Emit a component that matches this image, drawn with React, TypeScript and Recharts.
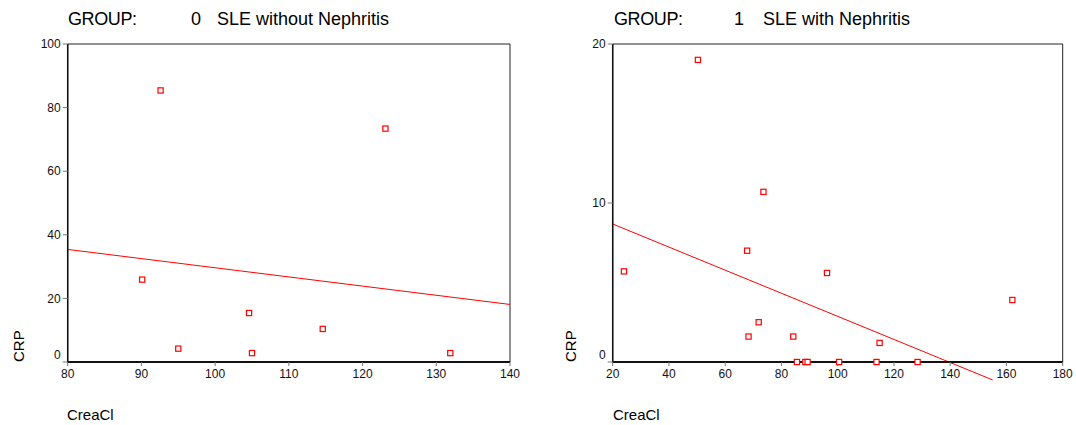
import React from 'react';
import { ScatterChart, Scatter, XAxis, YAxis, ReferenceLine, ReferenceArea } from 'recharts';

// group 0 - SLE without Nephritis
const crea0 = [92.6, 123.1, 90.1, 104.6, 95.0, 105.0, 114.6, 131.9];
const crp0 = [85.4, 73.4, 25.9, 15.4, 4.2, 2.8, 10.4, 2.8];
const fit0 = [
  { x: 80, y: 35.4 },
  { x: 140, y: 18.1 },
];
const xTicks0 = [80, 90, 100, 110, 120, 130, 140];
const yTicks0 = [0, 20, 40, 60, 80, 100];

// group 1 - SLE with Nephritis
const crea1 = [50.3, 73.6, 67.8, 24.0, 96.2, 162.1, 71.9, 68.3, 84.2, 114.9, 85.5, 88.5, 89.3, 100.5, 113.8, 128.4];
const crp1 = [19.0, 10.7, 7.0, 5.7, 5.6, 3.9, 2.5, 1.6, 1.6, 1.2, 0, 0, 0, 0, 0, 0];
const fit1 = [
  { x: 20, y: 8.68 },
  { x: 155.1, y: -1.13 },
];
const xTicks1 = [20, 40, 60, 80, 100, 120, 140, 160, 180];
const yTicks1 = [0, 10, 20];

const FONT = '"Liberation Sans", Arial, Helvetica, sans-serif';

const SquareDot = (props: any) => {
  const { cx, cy } = props;
  if (cx == null || cy == null) return null;
  return <rect x={cx - 2.6} y={cy - 2.6} width={5.2} height={5.2} fill="#fff" stroke="#ff0000" strokeWidth={1.2} />;
};

// SPSS puts the "0" label a bit above its tick
const YTick = (props: any) => {
  const { x, y, payload } = props;
  const shift = payload.value === 0 ? -7 : 0;
  return (
    <text x={x} y={y + shift} dy="0.355em" textAnchor="end" fontSize={12} fontFamily={FONT} fill="#111">
      {payload.value}
    </text>
  );
};

type PanelProps = {
  left: number;
  width: number;
  marginLeft: number;
  marginRight: number;
  crea: number[];
  crp: number[];
  fit: { x: number; y: number }[];
  xTicks: number[];
  yTicks: number[];
};

const Panel: React.FC<PanelProps> = ({ left, width, marginLeft, marginRight, crea, crp, fit, xTicks, yTicks }) => {
  const data = crea.map((c, i) => ({ crea: c, crp: crp[i] }));
  const xMin = xTicks[0];
  const xMax = xTicks[xTicks.length - 1];
  const yMin = yTicks[0];
  const yMax = yTicks[yTicks.length - 1];
  return (
    <div style={{ position: 'absolute', left, top: 0 }}>
      <ScatterChart width={width} height={425} margin={{ top: 44, right: marginRight, bottom: 33, left: marginLeft }}>
        <ReferenceArea
          x1={xMin}
          x2={xMax}
          y1={yMin}
          y2={yMax}
          fill="none"
          stroke="#222"
          strokeWidth={1}
          ifOverflow="visible"
        />
        <XAxis
          type="number"
          dataKey="crea"
          domain={[xMin, xMax]}
          ticks={xTicks}
          interval={0}
          height={30}
          tickSize={4}
          tickMargin={3}
          axisLine={{ stroke: '#111', strokeWidth: 2 }}
          tickLine={{ stroke: '#777' }}
          tick={{ fontSize: 12, fontFamily: FONT, fill: '#111' }}
        />
        <YAxis
          type="number"
          dataKey="crp"
          domain={[yMin, yMax]}
          ticks={yTicks}
          interval={0}
          width={40}
          tickSize={5}
          tickMargin={2}
          axisLine={{ stroke: '#111', strokeWidth: 1.5 }}
          tickLine={{ stroke: '#777' }}
          tick={<YTick />}
        />
        <ReferenceLine segment={fit} stroke="#ff0000" strokeWidth={1} ifOverflow="visible" />
        <Scatter data={data} shape={<SquareDot />} isAnimationActive={false} />
      </ScatterChart>
    </div>
  );
};

export default function App() {
  const titleStyle = { fontSize: 18, fontFamily: FONT, fill: '#000' };
  const labelStyle = { fontSize: 15, fontFamily: FONT, fill: '#000' };
  return (
    <div style={{ position: 'absolute', left: 0, top: 0, width: 1076, height: 425, background: '#fff' }}>
      <Panel
        left={0}
        width={540}
        marginLeft={27.7}
        marginRight={30}
        crea={crea0}
        crp={crp0}
        fit={fit0}
        xTicks={xTicks0}
        yTicks={yTicks0}
      />
      <Panel
        left={540}
        width={536}
        marginLeft={32.7}
        marginRight={13.3}
        crea={crea1}
        crp={crp1}
        fit={fit1}
        xTicks={xTicks1}
        yTicks={yTicks1}
      />
      <svg width={1076} height={425} style={{ position: 'absolute', left: 0, top: 0, pointerEvents: 'none' }}>
        <text x={68} y={25} {...titleStyle} letterSpacing={-0.4}>GROUP:</text>
        <text x={191} y={25} {...titleStyle}>0</text>
        <text x={217} y={25} {...titleStyle}>SLE without Nephritis</text>
        <text x={614} y={25} {...titleStyle} letterSpacing={-0.4}>GROUP:</text>
        <text x={734} y={25} {...titleStyle}>1</text>
        <text x={763} y={25} {...titleStyle}>SLE with Nephritis</text>

        <text x={24} y={362} transform="rotate(-90 24 362)" {...labelStyle}>CRP</text>
        <text x={576} y={362} transform="rotate(-90 576 362)" {...labelStyle}>CRP</text>
        <text x={67} y={420} {...labelStyle}>CreaCl</text>
        <text x={613} y={420} {...labelStyle}>CreaCl</text>
      </svg>
    </div>
  );
}
